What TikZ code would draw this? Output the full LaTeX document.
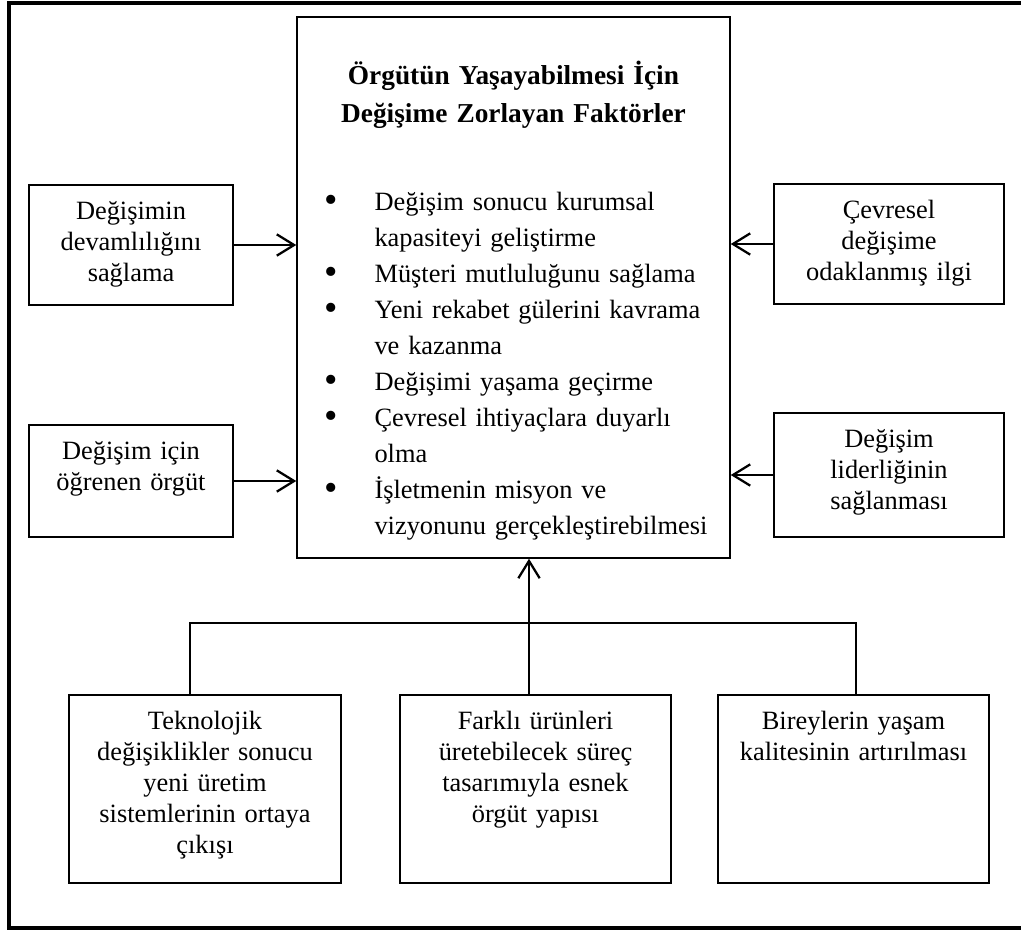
\documentclass[tikz,border=0pt]{standalone}
\usepackage{fontspec}
\usepackage{graphicx}
\setmainfont{Liberation Serif}
\usetikzlibrary{arrows.meta}
\newcommand{\itm}{\makebox[0pt][r]{\raisebox{-2pt}{\scalebox{1.45}{\textbullet}}\hspace{27.2pt}}}
\begin{document}
\begin{tikzpicture}[x=0.75pt,y=-0.75pt,
    box/.style={draw=black,line width=1.1pt,inner sep=0pt},
    txt/.style={align=center,text width=200pt,anchor=base,inner sep=0pt,font=\fontsize{19.8pt}{23.25pt}\selectfont},
    arr/.style={line width=1.7pt,-{Straight Barb[length=13pt,width=16pt]}},
    bus/.style={line width=1.5pt}]
    \useasboundingbox (0,0) rectangle (1021,929);
    \draw[line width=2.4pt] (9,3) rectangle (1040,928);

    \node[box,minimum width=324.75pt,minimum height=405.75pt] (main) at (513.5,287.5) {};
    \node[box,minimum width=153pt,minimum height=90pt] (dev) at (131,245) {};
    \node[box,minimum width=153pt,minimum height=84pt] (ogr) at (131,481) {};
    \node[box,minimum width=172.5pt,minimum height=90pt] (cev) at (889,244) {};
    \node[box,minimum width=172.5pt,minimum height=93pt] (lid) at (889,475) {};
    \node[box,minimum width=204pt,minimum height=141pt] (tek) at (205,789) {};
    \node[box,minimum width=203.25pt,minimum height=141pt] (far) at (535.5,789) {};
    \node[box,minimum width=203.25pt,minimum height=141pt] (bir) at (853.5,789) {};

    \node[txt,text width=300pt,font=\fontsize{20.5pt}{28.5pt}\selectfont\bfseries] (baslik) at ([yshift=-51pt]main.north)
        {Örgütün Yaşayabilmesi İçin\\Değişime Zorlayan Faktörler};
    \node[txt,text width=300pt,align=left,anchor=base west,font=\fontsize{19.8pt}{27pt}\selectfont] (liste)
        at ([xshift=58.5pt,yshift=-145.5pt]main.north west)
        {\itm Değişim sonucu kurumsal\\kapasiteyi geliştirme\\
         \itm Müşteri mutluluğunu sağlama\\
         \itm Yeni rekabet gülerini kavrama\\ve kazanma\\
         \itm Değişimi yaşama geçirme\\
         \itm Çevresel ihtiyaçlara duyarlı\\olma\\
         \itm İşletmenin misyon ve\\vizyonunu gerçekleştirebilmesi};

    \node[txt] (devT) at ([yshift=-26.25pt]dev.north) {Değişimin\\devamlılığını\\sağlama};
    \node[txt] (ogrT) at ([yshift=-26.25pt]ogr.north) {Değişim için\\öğrenen örgüt};
    \node[txt] (cevT) at ([yshift=-26.25pt]cev.north) {Çevresel\\değişime\\odaklanmış ilgi};
    \node[txt] (lidT) at ([yshift=-26.25pt]lid.north) {Değişim\\liderliğinin\\sağlanması};
    \node[txt] (tekT) at ([yshift=-26.25pt]tek.north)
        {Teknolojik\\değişiklikler sonucu\\yeni üretim\\sistemlerinin ortaya\\çıkışı};
    \node[txt] (farT) at ([yshift=-26.25pt]far.north)
        {Farklı ürünleri\\üretebilecek süreç\\tasarımıyla esnek\\örgüt yapısı};
    \node[txt] (birT) at ([yshift=-26.25pt]bir.north) {Bireylerin yaşam\\kalitesinin artırılması};

    \draw[arr] (dev.east) -- (dev.east -| main.west);
    \draw[arr] (ogr.east) -- (ogr.east -| main.west);
    \draw[arr] (cev.west) -- (cev.west -| main.east);
    \draw[arr] (lid.west) -- (lid.west -| main.east);

    \coordinate (busL) at (190,623);
    \coordinate (busM) at (529,623);
    \coordinate (busR) at (856,623);
    \draw[bus] (busL |- tek.north) -- (busL) -- (busR) -- (busR |- bir.north);
    \draw[arr] (busM |- far.north) -- (busM |- main.south);
\end{tikzpicture}
\end{document}
